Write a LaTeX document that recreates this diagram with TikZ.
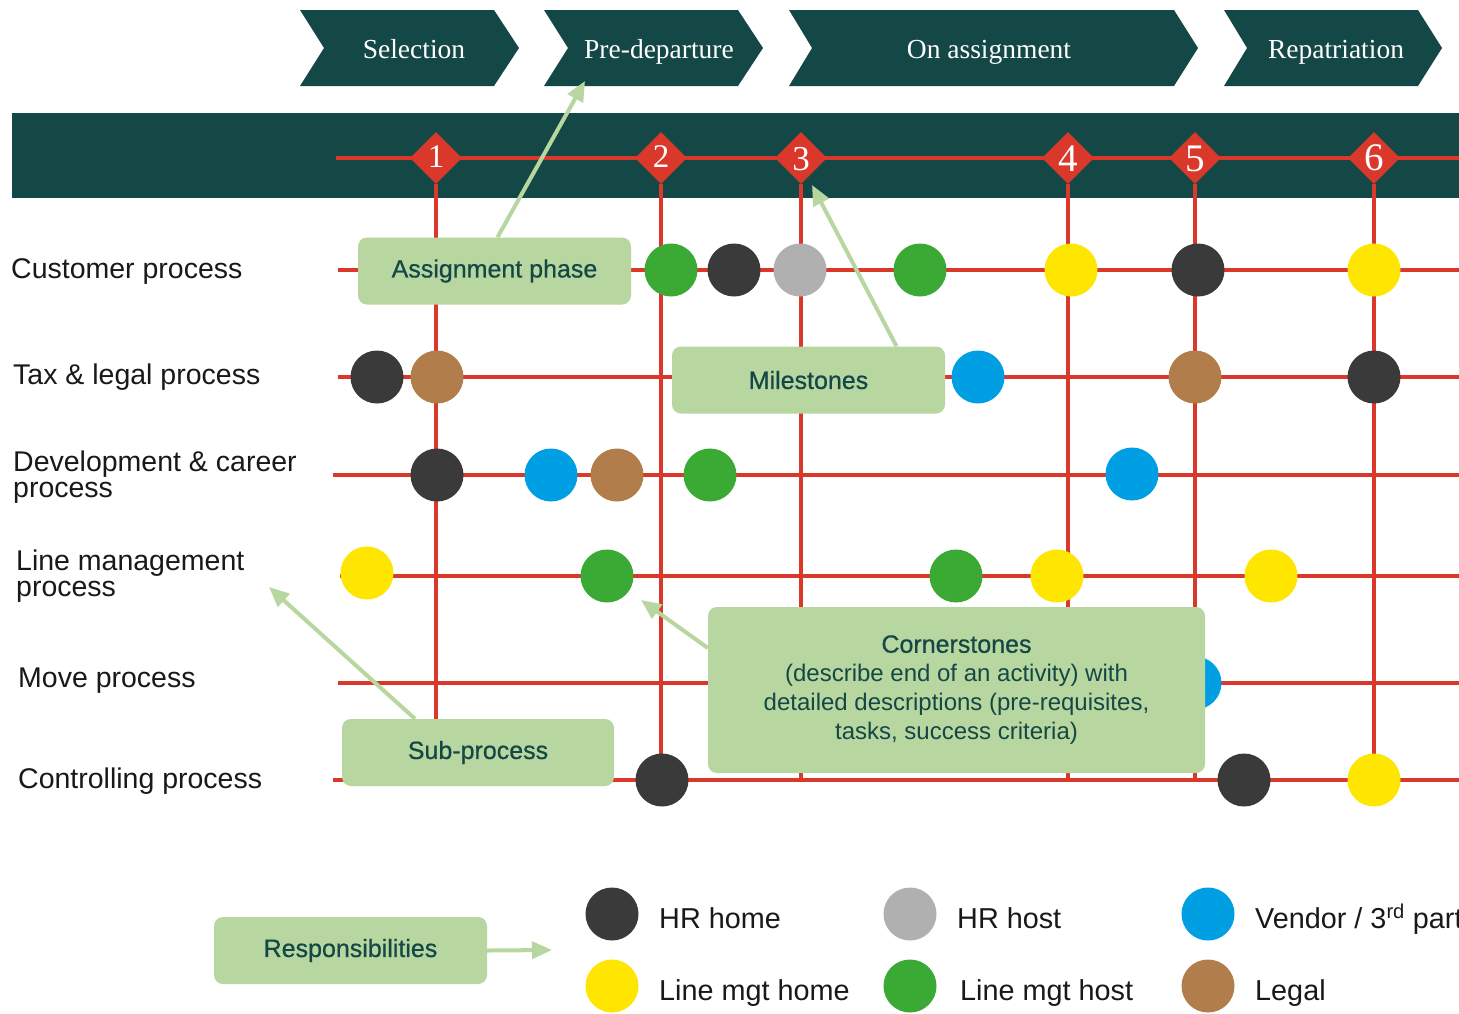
\documentclass[tikz,border=0pt]{standalone}
\usepackage{fontspec}
\setmainfont{Liberation Serif}
\setsansfont{Liberation Sans}
\newfontfamily\medsans[FakeBold=0.6]{Liberation Sans}
\newcommand\cdescfont{\sffamily\fontsize{24}{29}\selectfont}
\usetikzlibrary{arrows.meta,shapes.geometric,calc}
\definecolor{cteal}{RGB}{20,72,70}
\definecolor{cred}{RGB}{217,56,42}
\definecolor{cgbox}{RGB}{184,214,160}
\definecolor{cgreen}{RGB}{59,170,53}
\definecolor{cdark}{RGB}{58,58,58}
\definecolor{cgray}{RGB}{176,176,176}
\definecolor{cyellow}{RGB}{255,230,0}
\definecolor{cblue}{RGB}{0,159,227}
\definecolor{cbrown}{RGB}{176,125,75}
\definecolor{ctext}{RGB}{25,25,25}
\begin{document}
\begin{tikzpicture}[x=1pt,y=-1pt,
  chevtext/.style={text=white,font=\fontsize{27.5}{29}\selectfont,inner sep=0pt,anchor=base},
  numtext/.style={text=white,inner sep=0pt},
  mdia/.style={diamond,fill=cred,minimum width=52pt,minimum height=52pt,inner sep=0pt},
  dot/.style={circle,minimum size=53pt,inner sep=0pt},
  gbox/.style={fill=cgbox,rounded corners=9pt,text=cteal,font=\medsans\fontsize{25}{29}\selectfont,align=center,inner sep=0pt},
  garrow/.style={draw=cgbox,line width=4pt,-{Triangle[length=20pt,width=17pt]}},
  rline/.style={draw=cred,line width=4pt},
  plabel/.style={font=\sffamily\fontsize{28.5}{25.5}\selectfont,text=ctext,align=left,anchor=west,inner sep=0pt},
  leglabel/.style={font=\sffamily\fontsize{28.8}{30}\selectfont,text=ctext,anchor=base west,inner sep=0pt}]
\clip (0,0) rectangle (1459,1013);
\fill[white] (0,0) rectangle (1459,1013);

% phase chevrons
\fill[cteal] (300,10) -- (494,10) -- (519,48) -- (494,86) -- (300,86) -- (324,48) -- cycle;
\fill[cteal] (544,10) -- (738,10) -- (763,48) -- (738,86) -- (544,86) -- (568,48) -- cycle;
\fill[cteal] (789,10) -- (1174,10) -- (1198,48) -- (1174,86) -- (789,86) -- (812,48) -- cycle;
\fill[cteal] (1224,10) -- (1418,10) -- (1442,48) -- (1418,86) -- (1224,86) -- (1247,48) -- cycle;
\node[chevtext] (selection) at (414,58) {Selection};
\node[chevtext] (predep) at (659,58) {Pre-departure};
\node[chevtext] (onassign) at (989,58) {On assignment};
\node[chevtext] (repat) at (1336,58) {Repatriation};
\coordinate (pdtip) at (585,81);

% band
\fill[cteal] (12,113) rectangle (1459,198);
\coordinate (bandstart) at (336,158);
\coordinate (bandend) at (1459,158);
\draw[rline] (bandstart) -- (bandend);

% milestone diamonds
\node[mdia] (m1) at (436,158) {};
\node[mdia] (m2) at (661,158) {};
\node[mdia] (m3) at (801,158) {};
\node[mdia] (m4) at (1068,158) {};
\node[mdia] (m5) at (1195,158) {};
\node[mdia] (m6) at (1374,158) {};

% vertical lines
\foreach \m in {m1,m2,m3,m4,m5,m6}{
  \draw[rline] (\m.south) -- (\m.center |- 0,780);
}

% process lines
\foreach \yy/\xs in {270/338,377/338,475/333,576/340,683/338,780/333}{
  \draw[rline] (\xs,\yy) -- (1459,\yy);
}

% numbers
\node[numtext,font=\fontsize{33}{33}\selectfont] (n1) at (436,157) {1};
\node[numtext,font=\fontsize{33}{33}\selectfont] (n2) at (661,157) {2};
\node[numtext,font=\fontsize{35}{35}\selectfont] (n3) at (801,159) {3};
\node[numtext,font=\fontsize{39}{39}\selectfont] (n4) at (1068,159) {4};
\node[numtext,font=\fontsize{39}{39}\selectfont] (n5) at (1195,159) {5};
\node[numtext,font=\fontsize{39}{39}\selectfont] (n6) at (1374,158) {6};

% process labels
\node[plabel] (lcust) at (11,271) {Customer process};
\node[plabel] (ltax) at (13,377) {Tax \& legal process};
\node[plabel] (ldev) at (13,477) {Development \& career\\process};
\node[plabel] (lline) at (16,576) {Line management\\process};
\node[plabel] (lmove) at (18,681) {Move process};
\node[plabel] (lctrl) at (18,781) {Controlling process};

% dots: customer
\node[dot,fill=cgreen] (c1) at (671,270) {};
\node[dot,fill=cdark] (c2) at (734,270) {};
\node[dot,fill=cgray] (c3) at (800,270) {};
\node[dot,fill=cgreen] (c4) at (920,270) {};
\node[dot,fill=cyellow] (c5) at (1071,270) {};
\node[dot,fill=cdark] (c6) at (1198,270) {};
\node[dot,fill=cyellow] (c7) at (1374,270) {};
% tax
\node[dot,fill=cdark] (t1) at (377,377) {};
\node[dot,fill=cbrown] (t2) at (437,377) {};
\node[dot,fill=cblue] (t3) at (978,377) {};
\node[dot,fill=cbrown] (t4) at (1195,377) {};
\node[dot,fill=cdark] (t5) at (1374,377) {};
% development
\node[dot,fill=cdark] (d1) at (437,475) {};
\node[dot,fill=cblue] (d2) at (551,475) {};
\node[dot,fill=cbrown] (d3) at (617,475) {};
\node[dot,fill=cgreen] (d4) at (710,475) {};
\node[dot,fill=cblue] (d5) at (1132,474) {};
% line management
\node[dot,fill=cyellow] (l1) at (367,573) {};
\node[dot,fill=cgreen] (l2) at (607,576) {};
\node[dot,fill=cgreen] (l3) at (956,576) {};
\node[dot,fill=cyellow] (l4) at (1057,576) {};
\node[dot,fill=cyellow] (l5) at (1271,576) {};
% move
\node[dot,fill=cblue] (v1) at (1195,683) {};
% controlling
\node[dot,fill=cdark] (k1) at (662,780) {};
\node[dot,fill=cdark] (k2) at (1244,780) {};
\node[dot,fill=cyellow] (k3) at (1374,780) {};

% annotation boxes
\node[gbox,minimum width=273pt,minimum height=67pt] (ap) at (494.5,271) {Assignment phase};
\node[gbox,minimum width=273pt,minimum height=67pt] (ms) at (808.5,380) {Milestones};
\node[gbox,minimum width=497pt,minimum height=166pt] (cs) at (956.5,690)
  {Cornerstones\\{\cdescfont (describe end of an activity) with}\\{\cdescfont detailed descriptions (pre-requisites,}\\{\cdescfont tasks, success criteria)}};
\node[gbox,minimum width=272pt,minimum height=67pt] (sp) at (478,752.5) {Sub-process};
\node[gbox,minimum width=273pt,minimum height=67pt] (rs) at (350.5,950.5) {Responsibilities};

% arrow targets
\coordinate (m3tip) at (812,185);
\coordinate (l2tip) at (641,600);
\coordinate (lltip) at (269,587);
\coordinate (legtip) at (552,950);

% arrows
\draw[garrow] ($(ap.north)+(3,0)$) -- (pdtip);
\draw[garrow] ($(ms.north)+(88,0)$) -- (m3tip);
\draw[garrow] ($(cs.west)+(0,-42)$) -- (l2tip);
\draw[garrow] ($(sp.north)+(-63,0)$) -- (lltip);
\draw[garrow] (rs.east) -- (legtip);

% legend
\node[dot,fill=cdark] (g1) at (612,914) {};
\node[dot,fill=cgray] (g2) at (910,914) {};
\node[dot,fill=cblue] (g3) at (1208,914) {};
\node[dot,fill=cyellow] (g4) at (612,986) {};
\node[dot,fill=cgreen] (g5) at (910,986) {};
\node[dot,fill=cbrown] (g6) at (1208,986) {};
\node[leglabel] (gl1) at (659,928) {HR home};
\node[leglabel] (gl2) at (957,928) {HR host};
\node[leglabel] (gl3) at (1255,928) {Vendor / 3\textsuperscript{rd} party};
\node[leglabel] (gl4) at (659,1000) {Line mgt home};
\node[leglabel] (gl5) at (960,1000) {Line mgt host};
\node[leglabel] (gl6) at (1255,1000) {Legal};
\end{tikzpicture}
\end{document}
